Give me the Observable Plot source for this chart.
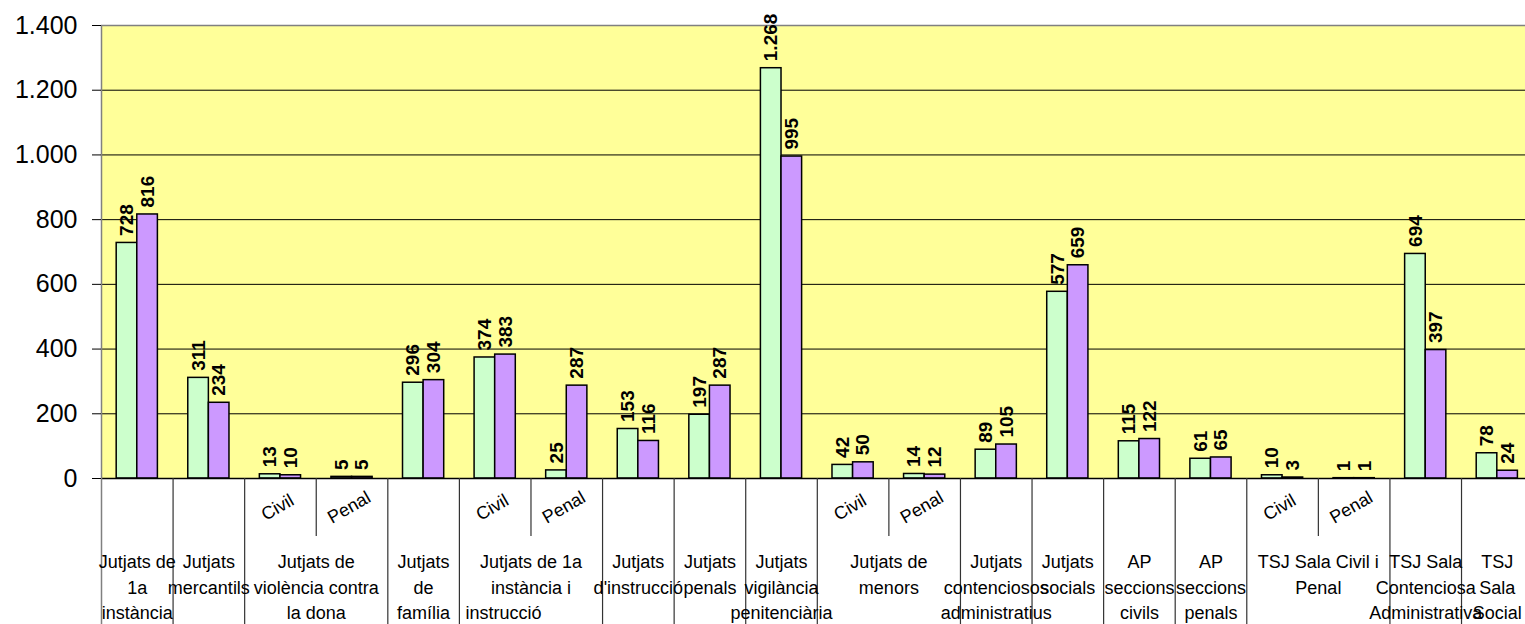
<!DOCTYPE html>
<html>
<head>
<meta charset="utf-8">
<script src="https://cdn.jsdelivr.net/npm/d3@7"></script>
<script src="https://cdn.jsdelivr.net/npm/@observablehq/plot@0.6"></script>
<style>
  html, body { margin: 0; padding: 0; background: #fff; overflow: hidden; }
  #chart svg { display: block; }
</style>
</head>
<body>
<div id="chart"></div>
<script>
// ---- data ----
const slots = ["s0","s1","s2","s3","s4","s5","s6","s7","s8","s9","s10","s11","s12","s13","s14","s15","s16","s17","s18","s19"];
const subLabels = ["", "", "Civil", "Penal", "", "Civil", "Penal", "", "", "", "Civil", "Penal", "", "", "", "", "Civil", "Penal", "", ""];
const groupLabels = [
  "Jutjats de\n1a\ninstància",
  "Jutjats\nmercantils",
  "Jutjats de\nviolència contra\nla dona",
  "Jutjats\nde\nfamília",
  "Jutjats de 1a\ninstància i\ninstrucció\u00a0\u00a0\u00a0\u00a0\u00a0\u00a0\u00a0\u00a0\u00a0\u00a0\u00a0",
  "Jutjats\nd'instrucció",
  "Jutjats\npenals",
  "Jutjats\nvigilància\npenitenciària",
  "Jutjats de\nmenors",
  "Jutjats\ncontenciosos\nadministratius",
  "Jutjats\nsocials",
  "AP\nseccions\ncivils",
  "AP\nseccions\npenals",
  "TSJ Sala Civil i\nPenal",
  "TSJ Sala\nContenciosa\nAdministrativa",
  "TSJ\nSala\nSocial"
];
const groupSpans = [1,1,2,1,2,1,1,1,2,1,1,1,1,2,1,1];
const series1 = [728,311,13,5,296,374,25,153,197,1268,42,14,89,577,115,61,10,1,694,78];
const series2 = [816,234,10,5,304,383,287,116,287,995,50,12,105,659,122,65,3,1,397,24];
const yTicks = [0,200,400,600,800,1000,1200,1400];

// ---- layout ----
const W = 1525, H = 624, mL = 101, mT = 25, mB = 146;
const plotRight = 1532.6;           // the plot area runs a little past the window edge
const mR = W - plotRight;           // negative right margin
const plotH = H - mT - mB;
const step = (plotRight - mL) / slots.length;
const barW = 20.6;
const pad = (step - 2 * barW) / 2;
const FONT = "Arial, 'Liberation Sans', sans-serif";

const fmt = d3.formatLocale({decimal: ",", thousands: ".", grouping: [3], currency: ["", "€"]}).format(",d");

const dataA = slots.map((s, i) => ({slot: s, value: series1[i]}));
const dataB = slots.map((s, i) => ({slot: s, value: series2[i]}));
const subData = slots.map((s, i) => ({slot: s, label: subLabels[i]})).filter(d => d.label);

let acc = 0;
const groups = groupLabels.map((g, i) => {
  const d = {slot: slots[acc], label: g, span: groupSpans[i]};
  acc += groupSpans[i];
  return d;
});
const groupStarts = groups.map(d => d.slot);
const innerSeps = groups.filter(d => d.span === 2).map(d => slots[slots.indexOf(d.slot) + 1]);

const chart = Plot.plot({
  width: W,
  height: H,
  marginLeft: mL,
  marginTop: mT,
  marginBottom: mB,
  marginRight: mR,
  style: {fontFamily: FONT, background: "#fff", color: "#000"},
  x: {domain: slots, range: [mL, plotRight], padding: 0, round: false, axis: null},
  y: {domain: [0, 1400], range: [H - mB, mT]},
  marks: [
    Plot.frame({fill: "#FFFF99", stroke: null}),
    Plot.ruleY(yTicks.filter(v => v > 0 && v < 1400), {stroke: "#000", strokeWidth: 1}),
    Plot.ruleY([1400], {stroke: "#808080", strokeWidth: 1.5}),
    Plot.barY(dataA, {x: "slot", y: "value", fill: "#CCFFCC", stroke: "#000", strokeWidth: 1.5,
      insetLeft: pad, insetRight: step - pad - barW}),
    Plot.barY(dataB, {x: "slot", y: "value", fill: "#CC99FF", stroke: "#000", strokeWidth: 1.5,
      insetLeft: pad + barW, insetRight: pad}),
    Plot.text(dataA, {x: "slot", y: "value", text: d => fmt(d.value), rotate: -90, textAnchor: "start",
      dx: -barW / 2, dy: -7, fontWeight: "bold", fontSize: 19, fill: "#000"}),
    Plot.text(dataB, {x: "slot", y: "value", text: d => fmt(d.value), rotate: -90, textAnchor: "start",
      dx: barW / 2, dy: -7, fontWeight: "bold", fontSize: 19, fill: "#000"}),
    Plot.ruleY([0], {stroke: "#000", strokeWidth: 1.5}),
    // category table separators
    Plot.ruleX([slots[0]], {x: d => d, dx: -step / 2, stroke: "#808080", strokeWidth: 1.5, insetBottom: -160}),
    Plot.ruleX(groupStarts.slice(1), {x: d => d, dx: -step / 2, stroke: "#333", strokeWidth: 1.2,
      insetTop: plotH, insetBottom: -160}),
    Plot.ruleX(innerSeps, {x: d => d, dx: -step / 2, stroke: "#333", strokeWidth: 1.2,
      insetTop: plotH, insetBottom: -58}),
    Plot.text(subData, {x: "slot", text: "label", frameAnchor: "bottom", dy: 34, rotate: -30,
      fontSize: 18, fill: "#000"}),
    Plot.text(groups.filter(d => d.span === 1), {x: "slot", text: "label", frameAnchor: "bottom",
      lineAnchor: "top", dy: 72, lineHeight: 1.4, fontSize: 18, fill: "#000"}),
    Plot.text(groups.filter(d => d.span === 2), {x: "slot", text: "label", frameAnchor: "bottom",
      lineAnchor: "top", dy: 72, dx: step / 2, lineHeight: 1.4, fontSize: 18, fill: "#000"}),
    Plot.axisY({ticks: yTicks, tickFormat: fmt, tickSize: 9, tickPadding: 15, fontSize: 25,
      label: null, stroke: "#000", fill: "#000"})
  ]
});
document.getElementById("chart").appendChild(chart);
</script>
</body>
</html>
